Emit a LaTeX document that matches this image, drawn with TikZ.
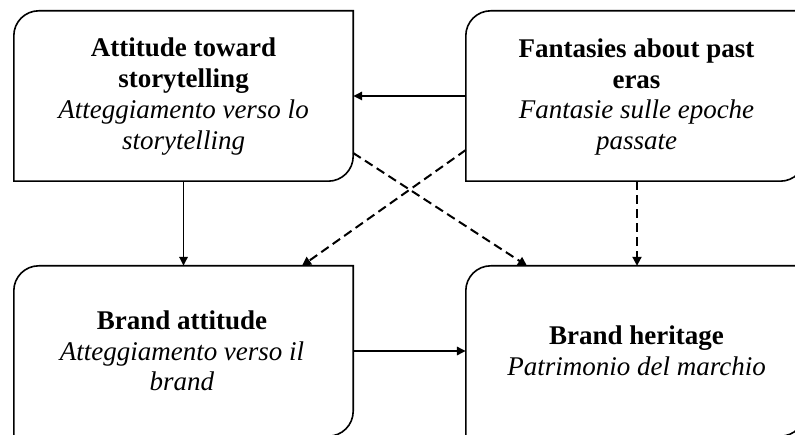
\documentclass[tikz,border=0pt]{standalone}
\usepackage{fontspec}
\setmainfont{Liberation Serif}
\usetikzlibrary{arrows.meta}
\tikzset{
  boxnode/.style={draw=none, inner sep=0pt, minimum width=339pt, minimum height=170pt},
  boxline/.style={line width=1.6pt, black},
  txt/.style={anchor=north, inner sep=0pt, align=center, font=\fontsize{27}{30.7}\selectfont},
  solidarrow/.style={line width=1.6pt, -{Triangle[length=9pt,width=8.5pt]}},
  dasharrow/.style={line width=2pt, dash pattern=on 9pt off 5pt, -{Triangle[length=9pt,width=9pt]}},
}
\newcommand{\cornerbox}[1]{%
  \draw[boxline] ([yshift=-25pt]#1.north west) arc[start angle=180,end angle=90,radius=25pt]
    -- (#1.north east) -- ([yshift=25pt]#1.south east) arc[start angle=0,end angle=-90,radius=25pt]
    -- (#1.south west) -- cycle;}
\begin{document}
\begin{tikzpicture}[x=1pt,y=1pt]
\useasboundingbox (0,0) rectangle (795,434);
\clip (0,0) rectangle (795,434);
\fill[white] (0,0) rectangle (795,434);
% boxes
\node[boxnode] (tl) at (183.5,338) {};
\node[boxnode] (tr) at (635.5,338) {};
\node[boxnode] (bl) at (183.5,83) {};
\node[boxnode] (br) at (635.5,83) {};
\cornerbox{tl}
\cornerbox{tr}
\cornerbox{bl}
\cornerbox{br}
% texts
\node[txt] (tlt) at (183.5,396) {\textbf{Attitude toward}\\\textbf{storytelling}\\\textit{Atteggiamento verso lo}\\\textit{storytelling}};
\node[txt] (trt) at (636.5,395.5) {\textbf{Fantasies about past}\\\textbf{eras}\\\textit{Fantasie sulle epoche}\\\textit{passate}};
\node[txt] (blt) at (182,123.5) {\textbf{Brand attitude}\\\textit{Atteggiamento verso il}\\\textit{brand}};
\node[txt] (brt) at (636.5,108.5) {\textbf{Brand heritage}\\\textit{Patrimonio del marchio}};
% connectors
\draw[solidarrow] (tr.west) -- (tl.east);
\draw[solidarrow] (tl.south) -- (bl.north);
\draw[solidarrow] (bl.east) -- (br.west);
\draw[dasharrow] ([yshift=-57pt]tl.east) -- ([xshift=-108.5pt]br.north);
\draw[dasharrow] ([yshift=-54pt]tr.west) -- ([xshift=118.5pt]bl.north);
\draw[dasharrow] ([xshift=1.5pt]tr.south) -- ([xshift=1.5pt]br.north);
\end{tikzpicture}
\end{document}
